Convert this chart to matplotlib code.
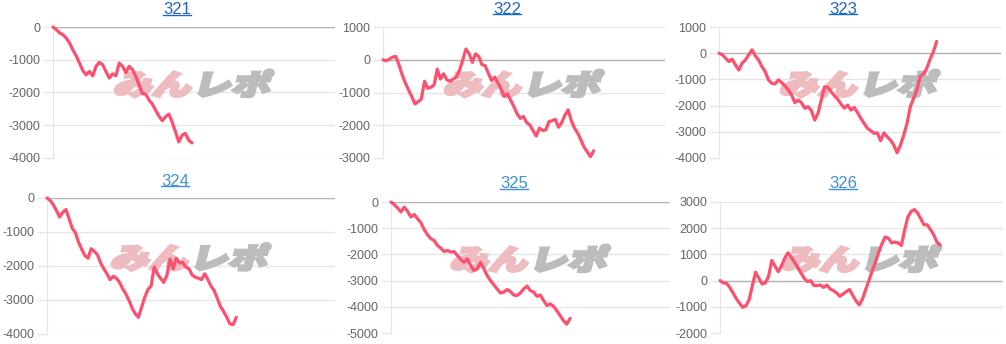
import matplotlib
matplotlib.use('Agg')
import matplotlib.pyplot as plt
from matplotlib.textpath import TextPath
from matplotlib.font_manager import FontProperties
from matplotlib.patches import PathPatch
from matplotlib.transforms import Affine2D
from matplotlib.lines import Line2D
import numpy as np

plt.rcParams['font.family'] = ['Liberation Sans', 'DejaVu Sans']

# data (one value per game)
titles = ['321', '322', '323', '324', '325', '326']

s321 = [0, -80, -180, -235, -340, -490, -700, -880, -1100, -1330, -1460, -1360, -1490,
        -1200, -1080, -1150, -1360, -1560, -1430, -1490, -1100, -1200, -1390, -1200,
        -1300, -1510, -1770, -2030, -2050, -2230, -2350, -2540, -2720, -2860, -2740,
        -2660, -2900, -3200, -3510, -3300, -3250, -3460, -3540]

s322 = [0, -30, 20, 80, 100, -150, -460, -710, -920, -1120, -1350, -1280, -1200, -660,
        -870, -840, -770, -290, -590, -430, -610, -660, -590, -530, -310, 0, 330, 180,
        -80, 180, 100, -150, -180, -410, -630, -530, -710, -900, -1120, -1040, -1240,
        -1430, -1650, -1790, -1730, -1920, -1990, -2160, -2330, -2090, -2160, -2140,
        -1890, -1860, -1820, -2060, -1920, -1690, -1530, -1860, -2090, -2240, -2450,
        -2670, -2810, -2960, -2780]

s323 = [0, -60, -190, -320, -230, -450, -640, -380, -260, -60, 130, -100, -260, -510,
        -700, -1020, -1150, -1170, -1020, -1120, -1250, -1400, -1590, -1890, -1790,
        -1890, -2100, -2040, -2190, -2550, -2300, -1790, -1280, -1300, -1470, -1630,
        -1760, -1940, -2100, -1980, -2170, -2070, -2270, -2490, -2680, -2870, -2960,
        -3060, -3040, -3340, -3040, -3190, -3320, -3510, -3800, -3510, -3130, -2680,
        -2040, -1720, -1400, -890, -790, -570, -230, 60, 450]

s324 = [0, -70, -200, -370, -560, -420, -340, -610, -890, -1020, -1300, -1510, -1690,
        -1770, -1490, -1570, -1670, -1910, -2080, -2230, -2400, -2300, -2360, -2480,
        -2670, -2820, -3010, -3240, -3410, -3510, -3210, -2920, -2690, -2590, -2030,
        -2230, -2360, -2480, -2280, -1800, -2080, -1770, -1910, -1890, -2030, -2080,
        -2260, -2330, -2360, -2400, -2230, -2400, -2590, -2720, -2950, -3190, -3340,
        -3510, -3700, -3730, -3510]

s325 = [0, -100, -230, -380, -190, -360, -570, -480, -640, -790, -1050, -1250, -1400,
        -1470, -1660, -1760, -1890, -1850, -1910, -1890, -2040, -2190, -2300, -2170,
        -2420, -2610, -2550, -2300, -2550, -2810, -3000, -3160, -3320, -3470, -3440,
        -3340, -3420, -3550, -3570, -3470, -3320, -3210, -3380, -3440, -3600, -3550,
        -3760, -3950, -3890, -3980, -4150, -4340, -4530, -4660, -4440]

s326 = [0, -90, -100, -260, -470, -680, -860, -1020, -960, -730, -190, 320, 90, -130,
        -90, 170, 770, 550, 340, 570, 860, 1060, 890, 700, 510, 290, 90, -40, 0, -190,
        -190, -170, -260, -170, -320, -380, -470, -600, -510, -420, -340, -570, -770,
        -930, -700, -340, 0, 380, 700, 1080, 1400, 1660, 1620, 1440, 1470, 1440, 1340,
        1910, 2420, 2640, 2710, 2590, 2360, 2130, 2130, 1950, 1750, 1470, 1360]

yticks = [[0, -1000, -2000, -3000, -4000],
          [1000, 0, -1000, -2000, -3000],
          [1000, 0, -1000, -2000, -3000, -4000],
          [0, -1000, -2000, -3000, -4000],
          [0, -1000, -2000, -3000, -4000, -5000],
          [3000, 2000, 1000, 0, -1000, -2000]]

series = [s321, s322, s323, s324, s325, s326]

# layout in pixels: axes (left, top, right, bottom), title centre, share of x used
W, H = 1006, 344
boxes = [(53, 27, 335, 158), (383, 27, 665, 158), (719, 27, 1001, 158),
         (47, 198, 335, 334), (391, 202, 670, 333), (720, 202, 1003, 333)]
title_pos = [(177, 10), (507, 9), (843, 9), (175, 181), (514, 184), (843, 184)]
x_share = [0.493, 0.747, 0.772, 0.657, 0.642, 0.778]
title_colors = ['#1f66c8'] * 3 + ['#3f8fdc'] * 3

line_color = '#ff4f6e'
grid_color = '#e6e6e6'
zero_color = '#b4b4b4'

fig = plt.figure(figsize=(W / 100, H / 100), dpi=100)

fp_logo = FontProperties(family='Noto Sans CJK JP', weight='heavy')


def watermark(ax, cx, cy):
    # "みんレポ" logo, pink + gray, slanted, drawn in display pixels
    p1 = TextPath((0, 0), 'みん', size=30, prop=fp_logo)
    e1 = p1.get_extents()
    p2 = TextPath((e1.x1 + 2, 0), 'レポ', size=30, prop=fp_logo)
    e2 = p2.get_extents()
    x0, y0 = min(e1.x0, e2.x0), min(e1.y0, e2.y0)
    x1, y1 = max(e1.x1, e2.x1), max(e1.y1, e2.y1)
    tw, th = 154, 27
    tr = (Affine2D().translate(-x0, -y0).scale(tw / (x1 - x0), th / (y1 - y0))
          .skew_deg(14, 0).translate(cx - tw / 2 - 3.5, H - cy - th / 2))
    for p, c in ((p1, '#eebbc0'), (p2, '#bcbcbc')):
        ax.add_patch(PathPatch(p, transform=tr, facecolor=c, edgecolor=c,
                               lw=2.2, joinstyle='miter', zorder=2.5))


for i in range(6):
    l, t, r, b = boxes[i]
    ax = fig.add_axes([l / W, 1 - b / H, (r - l) / W, (b - t) / H])
    vals = series[i]
    x = np.arange(len(vals))
    ax.plot(x, vals, color=line_color, lw=2.3, clip_on=False, zorder=3,
            solid_joinstyle='round', solid_capstyle='round')
    ax.set_xlim(0, (len(vals) - 1) / x_share[i])
    ax.set_ylim(min(yticks[i]), max(yticks[i]))
    ax.set_xticks([])
    ax.set_yticks(yticks[i])
    ax.set_yticklabels([str(v) for v in yticks[i]])
    for s in ['top', 'right', 'bottom']:
        ax.spines[s].set_visible(False)
    ax.spines['left'].set_color(grid_color)
    ax.yaxis.grid(True, color=grid_color, lw=1, zorder=1)
    ax.set_axisbelow(True)
    ax.axhline(0, color=zero_color, lw=1, zorder=2)
    ax.tick_params(axis='y', length=7, width=1, color=grid_color,
                   labelcolor='#666666', labelsize=9, pad=2)
    for tk, v in zip(ax.yaxis.get_major_ticks(), yticks[i]):
        if v == 0:
            tk.tick1line.set_color(zero_color)
    cx = (l + r) / 2
    cy = (t + b) / 2 - 9
    watermark(ax, cx, cy)

# titles, underlined like links
texts = []
for i in range(6):
    tx, ty = title_pos[i]
    texts.append(fig.text(tx / W, 1 - ty / H, titles[i], ha='center', va='center',
                          fontsize=12, color=title_colors[i]))

fig.canvas.draw()
for i, txt in enumerate(texts):
    bb = txt.get_window_extent()
    yy = (bb.y0 + 2.5) / H
    fig.add_artist(Line2D([bb.x0 / W, bb.x1 / W], [yy, yy], transform=fig.transFigure,
                          color=title_colors[i], lw=1))

fig.savefig('out.png', dpi=100)
